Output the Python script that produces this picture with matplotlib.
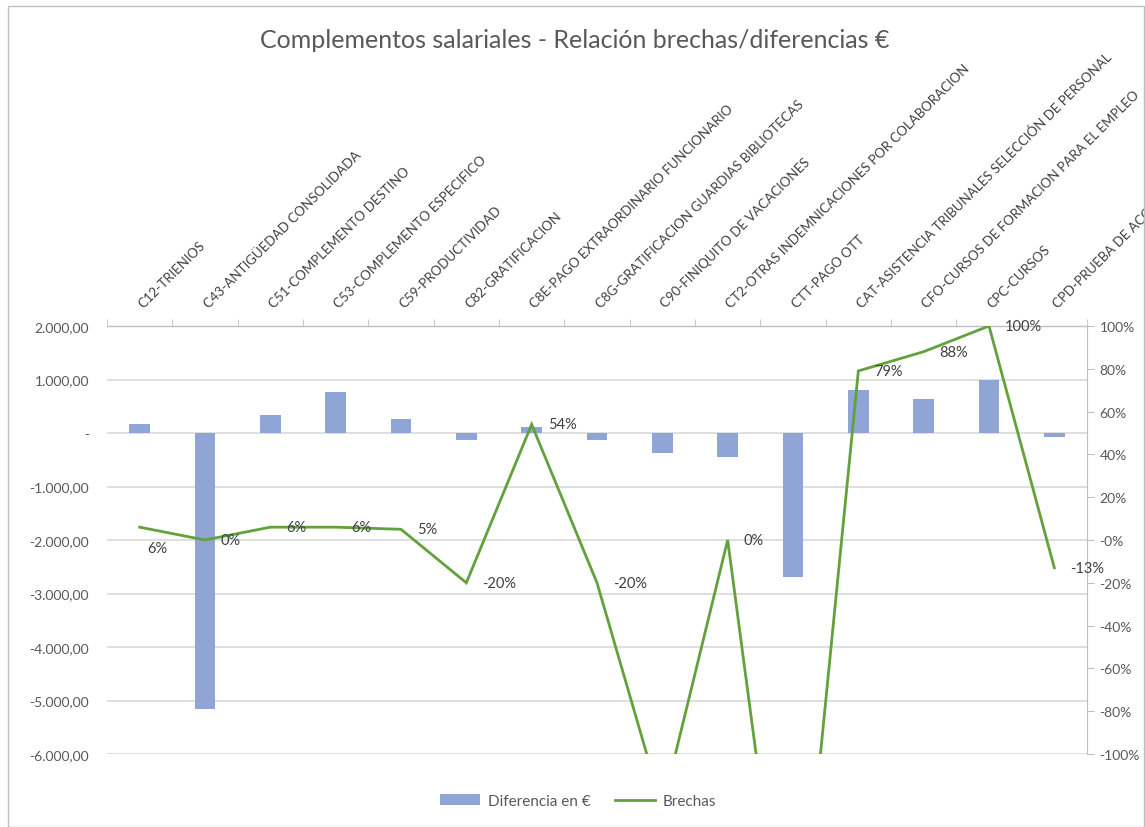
import matplotlib
matplotlib.use("Agg")
import matplotlib.pyplot as plt
from matplotlib.ticker import FuncFormatter, FixedLocator
from matplotlib.patches import Patch, Rectangle
from matplotlib.lines import Line2D
from matplotlib.transforms import ScaledTranslation
import numpy as np

plt.rcParams['font.family'] = ['Lato', 'DejaVu Sans']

categories = [
    "C12-TRIENIOS",
    "C43-ANTIGÜEDAD CONSOLIDADA",
    "C51-COMPLEMENTO DESTINO",
    "C53-COMPLEMENTO ESPECIFICO",
    "C59-PRODUCTIVIDAD",
    "C82-GRATIFICACION",
    "C8E-PAGO EXTRAORDINARIO FUNCIONARIO",
    "C8G-GRATIFICACION GUARDIAS BIBLIOTECAS",
    "C90-FINIQUITO DE VACACIONES",
    "CT2-OTRAS INDEMNICACIONES POR COLABORACION",
    "CTT-PAGO OTT",
    "CAT-ASISTENCIA TRIBUNALES SELECCIÓN DE PERSONAL",
    "CFO-CURSOS DE FORMACION PARA EL EMPLEO",
    "CPC-CURSOS",
    "CPD-PRUEBA DE ACCESO",
]
diferencia = [170, -5160, 340, 760, 260, -140, 110, -140, -380, -455, -2700, 800, 640, 1000, -70]
brechas = [0.06, 0.00, 0.06, 0.06, 0.05, -0.20, 0.54, -0.20, -1.25, 0.00, -2.30, 0.79, 0.88, 1.00, -0.13]

W, H = 1145, 828
fig = plt.figure(figsize=(W / 100, H / 100), dpi=100)

# chart border
fig.patches.append(Rectangle((8 / W, 0), (1144 - 8) / W, 1 - 7 / H, transform=fig.transFigure,
                             fill=False, edgecolor='#bfbfbf', linewidth=1.0))

L, R, T, B = 107, 1087, 327, 755
ax = fig.add_axes([L / W, 1 - B / H, (R - L) / W, (B - T) / H])
x = np.arange(len(categories))

bar_color = '#8EA5D6'
line_color = '#62A13B'
grid_color = '#d9d9d9'
text_gray = '#595959'
label_dark = '#404040'

ax.bar(x, diferencia, width=0.32, color=bar_color, zorder=2)
ax.set_xlim(-0.5, len(categories) - 0.5)
ax.set_ylim(-6000, 2000)
ax.set_yticks(np.arange(-6000, 2001, 1000))


def es_fmt(v, pos=None):
    if abs(v) < 1e-9:
        return "-"
    s = f"{abs(v):,.2f}".replace(",", "X").replace(".", ",").replace("X", ".")
    return ("-" if v < 0 else "") + s


ax.yaxis.set_major_formatter(FuncFormatter(es_fmt))
ax.tick_params(axis='y', length=0, labelsize=10, labelcolor=text_gray, pad=13)
ax.grid(axis='y', color=grid_color, linewidth=1.2, zorder=0)
ax.set_axisbelow(True)
for s in ['left', 'right', 'bottom']:
    ax.spines[s].set_visible(False)
ax.spines['top'].set_color('#bfbfbf')
ax.spines['top'].set_linewidth(1.0)

ax.xaxis.tick_top()
ax.set_xticks(x)
ax.set_xticklabels(categories, rotation=45, ha='left', va='bottom', rotation_mode='anchor',
                   fontsize=9.5, color=label_dark)
ax.tick_params(axis='x', which='major', length=0, pad=12)
shift = ScaledTranslation(5 / 100, 0, fig.dpi_scale_trans)
for lbl in ax.get_xticklabels():
    lbl.set_transform(lbl.get_transform() + shift)
ax.xaxis.set_minor_locator(FixedLocator(np.arange(-0.5, len(categories) + 0.5, 1.0)))
ax.tick_params(axis='x', which='minor', length=5, color='#bfbfbf', direction='out', top=True, bottom=False)

ax2 = ax.twinx()
ax2.plot(x, brechas, color=line_color, linewidth=2.0, zorder=3, solid_joinstyle='miter')
ax2.set_ylim(-1, 1)
ax2.set_yticks(np.arange(-1, 1.0001, 0.2))
ax2.yaxis.set_major_formatter(FuncFormatter(lambda v, p: f"{v * 100:.0f}%"))
ax2.tick_params(axis='y', length=5, color='#bfbfbf', labelsize=10, labelcolor=text_gray, pad=4)
for s in ['left', 'top', 'bottom']:
    ax2.spines[s].set_visible(False)
ax2.spines['right'].set_color('#bfbfbf')

for i, v in enumerate(brechas):
    if v < -1 or v > 1:
        continue
    lab = f"{v * 100:.0f}%"
    if i == 0:
        ax2.annotate(lab, (i, v), xytext=(13, -15), textcoords='offset points',
                     ha='center', va='center', fontsize=10.5, color=label_dark)
    else:
        ax2.annotate(lab, (i, v), xytext=(11.5, 0), textcoords='offset points',
                     ha='left', va='center', fontsize=10.5, color=label_dark)

fig.text(575 / W, 1 - 40 / H, "Complementos salariales - Relación brechas/diferencias €",
         ha='center', va='center', fontsize=18, color=text_gray)

handles = [Patch(facecolor=bar_color, edgecolor='none'),
           Line2D([0], [0], color=line_color, linewidth=2.0)]
fig.legend(handles, ["Diferencia en €", "Brechas"], loc='center',
           bbox_to_anchor=(578 / W, 1 - 802 / H), ncol=2, frameon=False,
           fontsize=11, labelcolor=text_gray, handlelength=2.6, handleheight=0.7,
           columnspacing=1.6, handletextpad=0.5)

fig.savefig("out.png", dpi=100)
